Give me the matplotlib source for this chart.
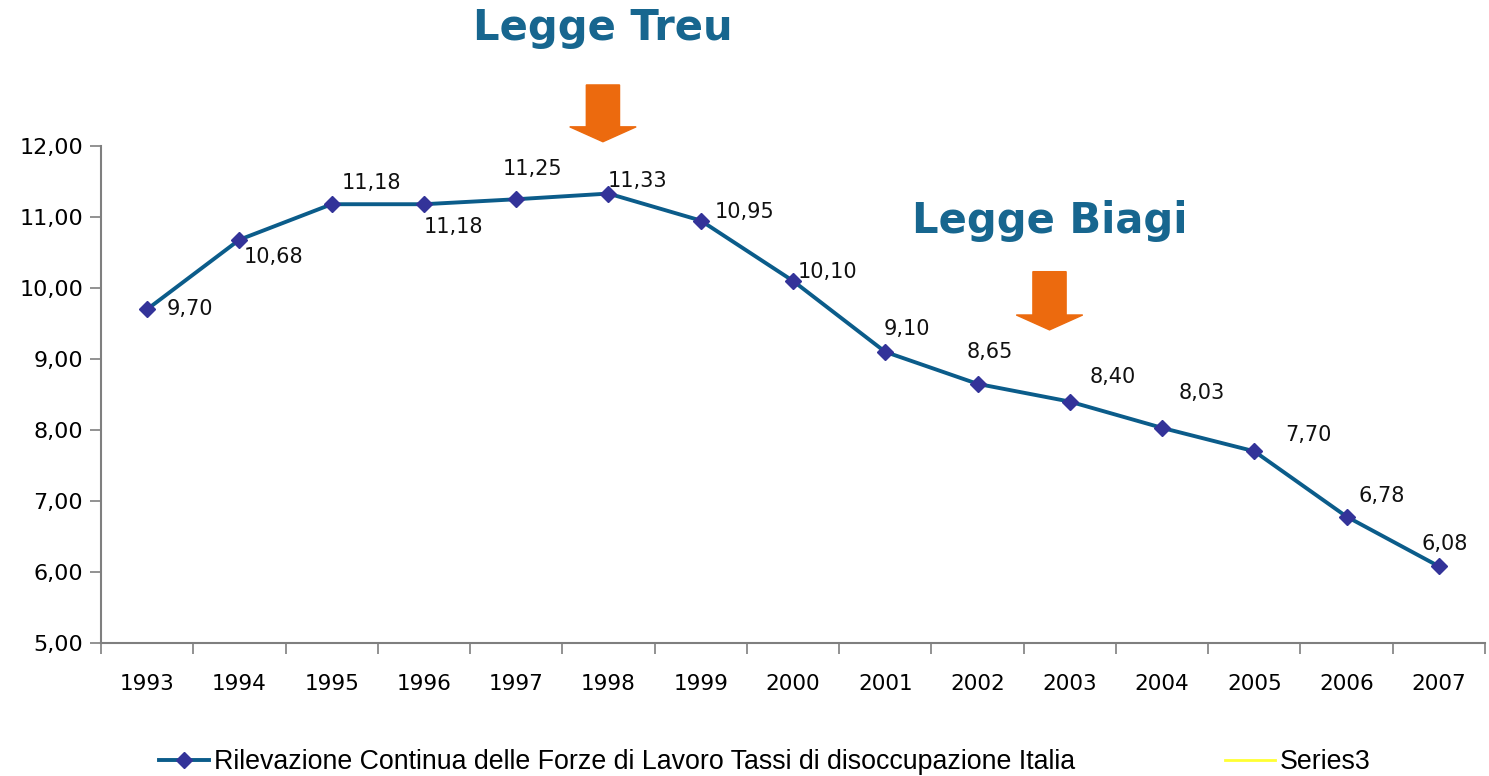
import matplotlib.pyplot as plt
from matplotlib.patches import Polygon
import numpy as np

years = ['1993', '1994', '1995', '1996', '1997', '1998', '1999', '2000',
         '2001', '2002', '2003', '2004', '2005', '2006', '2007']
tassi = [9.70, 10.68, 11.18, 11.18, 11.25, 11.33, 10.95, 10.10,
         9.10, 8.65, 8.40, 8.03, 7.70, 6.78, 6.08]
serie_label = 'Rilevazione Continua delle Forze di Lavoro Tassi di disoccupazione Italia'

# label offsets in pixels (dx, dy)
offsets = [(43, 0), (34, -17), (40, 21), (30, -23), (16, 30), (29, 13), (44, 9),
           (34, 9), (22, 23), (12, 32), (43, 25), (40, 35), (54, 16), (35, 21), (6, 22)]

line_col = '#0B5C8A'
marker_col = '#333399'
orange = '#EC6A0E'
title_col = '#17668F'
axis_col = '#7F7F7F'

fig = plt.figure(figsize=(14.89, 7.76), dpi=100)
ax = fig.add_axes([101 / 1489, 1 - 643 / 776, 1384 / 1489, (643 - 146) / 776])

x = np.arange(len(years)) + 0.5
ax.plot(x, tassi, color=line_col, lw=2.8, marker='D', ms=8,
        mfc=marker_col, mec=marker_col, label=serie_label, zorder=3)
ax.plot([], [], color='#FFFF33', lw=2, label='Series3')

for xi, v, (dx, dy) in zip(x, tassi, offsets):
    ax.annotate(f'{v:.2f}'.replace('.', ','), (xi, v), xytext=(dx, dy),
                textcoords='offset pixels', ha='center', va='center',
                fontsize=15, color='#111111')

ax.set_xlim(0, len(years))
ax.set_ylim(5, 12)
ax.set_yticks(np.arange(5, 13, 1))
ax.set_yticklabels([f'{t:.2f}'.replace('.', ',') for t in np.arange(5, 13, 1)])
ax.set_xticks(np.arange(0, len(years) + 1))
ax.set_xticklabels([])
ax.set_xticks(x, minor=True)
ax.set_xticklabels(years, minor=True)
ax.tick_params(axis='x', which='major', length=8, width=1.2, color=axis_col, direction='out')
ax.tick_params(axis='x', which='minor', length=0, pad=22, labelsize=15.5)
ax.tick_params(axis='y', length=8, width=1.2, color=axis_col, labelsize=16, pad=5)
for s in ['top', 'right']:
    ax.spines[s].set_visible(False)
for s in ['left', 'bottom']:
    ax.spines[s].set_color(axis_col)
    ax.spines[s].set_linewidth(1.5)


def arrow(cx, top, bottom):
    # orange down arrow in axes data coords (x position, y value)
    sw, hw, hh = 0.18, 0.36, 0.21
    pts = [(cx - sw, top), (cx + sw, top), (cx + sw, bottom + hh), (cx + hw, bottom + hh),
           (cx, bottom), (cx - hw, bottom + hh), (cx - sw, bottom + hh)]
    ax.add_patch(Polygon(pts, closed=True, color=orange, clip_on=False, zorder=4))


arrow(5.44, 12.86, 12.06)
arrow(10.28, 10.23, 9.41)

fig.text(603 / 1489, 1 - 28 / 776, 'Legge Treu', ha='center', va='center',
         fontsize=30, fontweight='bold', color=title_col)
fig.text(1050 / 1489, 1 - 221 / 776, 'Legge Biagi', ha='center', va='center',
         fontsize=30, fontweight='bold', color=title_col)

fig.legend(loc='center', bbox_to_anchor=(765 / 1489, 1 - 762 / 776), ncol=2,
           frameon=False, prop={'family': 'Liberation Sans', 'size': 19.3},
           handlelength=1.85, handletextpad=0.2, columnspacing=5.6)

fig.savefig('out.png', dpi=100)
